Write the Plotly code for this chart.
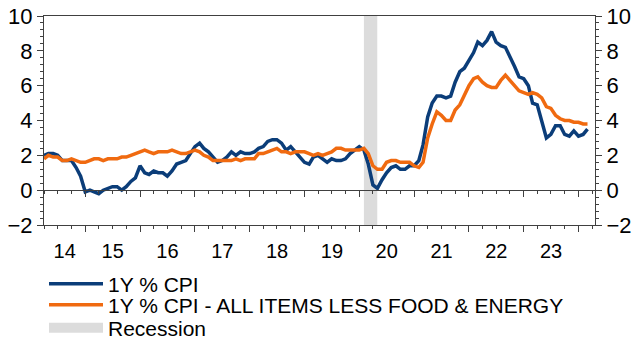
import plotly.graph_objects as go
import pandas as pd

# ---- data (monthly, Apr 2014 - Mar 2024) ----
start_month = "2014-04-01"
cpi = [2.0, 2.1, 2.1, 2.0, 1.7, 1.7, 1.7, 1.3, 0.8,
       -0.1, 0.0, -0.1, -0.2, 0.0, 0.1, 0.2, 0.2, 0.0, 0.2, 0.5, 0.7,
       1.4, 1.0, 0.9, 1.1, 1.0, 1.0, 0.8, 1.1, 1.5, 1.6, 1.7, 2.1,
       2.5, 2.7, 2.4, 2.2, 1.9, 1.6, 1.7, 1.9, 2.2, 2.0, 2.2, 2.1,
       2.1, 2.2, 2.4, 2.5, 2.8, 2.9, 2.9, 2.7, 2.3, 2.5, 2.2, 1.9,
       1.6, 1.5, 1.9, 2.0, 1.8, 1.6, 1.8, 1.7, 1.7, 1.8, 2.1, 2.3,
       2.5, 2.3, 1.5, 0.3, 0.1, 0.6, 1.0, 1.3, 1.4, 1.2, 1.2, 1.4,
       1.4, 1.7, 2.6, 4.2, 5.0, 5.4, 5.4, 5.3, 5.4, 6.2, 6.8, 7.0,
       7.5, 7.9, 8.5, 8.3, 8.6, 9.1, 8.5, 8.3, 8.2, 7.7, 7.1, 6.5,
       6.4, 6.0, 5.0, 4.9, 4.0, 3.0, 3.2, 3.7, 3.7, 3.2, 3.1, 3.4,
       3.1, 3.2, 3.5]
core = [1.8, 2.0, 1.9, 1.9, 1.7, 1.7, 1.8, 1.7, 1.6,
        1.6, 1.7, 1.8, 1.8, 1.7, 1.8, 1.8, 1.8, 1.9, 1.9, 2.0, 2.1,
        2.2, 2.3, 2.2, 2.1, 2.2, 2.2, 2.2, 2.3, 2.2, 2.1, 2.1, 2.2,
        2.3, 2.2, 2.0, 1.9, 1.7, 1.7, 1.7, 1.7, 1.7, 1.8, 1.7, 1.8,
        1.8, 1.8, 2.1, 2.1, 2.2, 2.3, 2.4, 2.2, 2.2, 2.1, 2.2, 2.2,
        2.2, 2.1, 2.0, 2.1, 2.0, 2.1, 2.2, 2.4, 2.4, 2.3, 2.3, 2.3,
        2.3, 2.4, 2.1, 1.4, 1.2, 1.2, 1.6, 1.7, 1.7, 1.6, 1.6, 1.6,
        1.4, 1.3, 1.6, 3.0, 3.8, 4.5, 4.3, 4.0, 4.0, 4.6, 4.9, 5.5,
        6.0, 6.4, 6.5, 6.2, 6.0, 5.9, 5.9, 6.3, 6.6, 6.3, 6.0, 5.7,
        5.6, 5.5, 5.6, 5.5, 5.3, 4.8, 4.7, 4.3, 4.1, 4.0, 4.0, 3.9,
        3.9, 3.8, 3.8]
dates = pd.date_range(start_month, periods=len(cpi), freq="MS")

recession = ["2020-02-01", "2020-04-30"]
years = list(range(2014, 2024))
year_labels = [str(y)[2:] for y in years]
series_names = ["1Y % CPI", "1Y % CPI - ALL ITEMS LESS FOOD & ENERGY", "Recession"]

# ---- styling ----
NAVY = "#0b3d79"
ORANGE = "#f06a10"
GREY = "#dcdcdc"
AX = "#404040"
FONT = "Liberation Sans, Arial, sans-serif"
x_range = [pd.Timestamp("2014-04-01"), pd.Timestamp("2024-04-20")]

# label positions: centre of visible part of each year
lab_pos = []
for y in years:
    a = max(pd.Timestamp(f"{y}-01-01"), x_range[0])
    b = min(pd.Timestamp(f"{y + 1}-01-01"), x_range[1])
    lab_pos.append(a + (b - a) / 2)

fig = go.Figure()
fig.add_trace(go.Scatter(x=dates, y=cpi, mode="lines", name=series_names[0],
                         line=dict(color=NAVY, width=3.5), legend="legend"))
fig.add_trace(go.Scatter(x=dates, y=core, mode="lines", name=series_names[1],
                         line=dict(color=ORANGE, width=3.5), legend="legend2"))
# legend-only entry for recession
fig.add_trace(go.Scatter(x=[None], y=[None], mode="lines", name=series_names[2],
                         line=dict(color=GREY, width=14), legend="legend3",
                         xaxis="x2", yaxis="y2"))
# invisible helper for zero-line axis
fig.add_trace(go.Scatter(x=[None], y=[None], mode="lines", showlegend=False,
                         xaxis="x3", yaxis="y", hoverinfo="skip"))

fig.add_shape(type="rect", xref="x", yref="y", x0=recession[0], x1=recession[1],
              y0=-2, y1=10, fillcolor=GREY, line=dict(width=0), layer="below")

common_x = dict(type="date", range=x_range, showgrid=False, zeroline=False)
minor_x = dict(tick0="2015-01-01", dtick="M3", ticks="outside",
               ticklen=3, tickcolor=AX, tickwidth=1, showgrid=False)
leg = dict(x=0.0, xanchor="left", yanchor="middle",
           font=dict(size=21), itemwidth=54, bgcolor="rgba(0,0,0,0)")
fig.update_layout(
    width=633, height=340,
    margin=dict(l=44, r=38, t=16, b=115, autoexpand=False),
    paper_bgcolor="white", plot_bgcolor="white",
    font=dict(family=FONT, color="black", size=20),
    showlegend=True,
    xaxis=dict(**common_x, showline=True, linecolor=AX, linewidth=1, mirror=True,
               tick0="2015-01-01", dtick="M12", ticks="outside", ticklen=6,
               tickcolor=AX, tickwidth=1, showticklabels=False, minor=minor_x),
    xaxis2=dict(**common_x, overlaying="x", anchor="y2", side="bottom",
                tickmode="array", tickvals=lab_pos, ticktext=year_labels,
                ticks="outside", ticklen=8, tickcolor="rgba(0,0,0,0)",
                showline=False, tickfont=dict(size=20)),
    xaxis3=dict(**common_x, overlaying="x", anchor="free", position=2 / 12,
                showline=True, linecolor=AX, linewidth=1,
                tick0="2015-01-01", dtick="M12", ticks="outside", ticklen=6,
                tickcolor=AX, tickwidth=1, showticklabels=False, minor=minor_x),
    yaxis=dict(range=[-2, 10], dtick=2, tick0=0, showgrid=False, zeroline=False,
               showline=True, linecolor=AX, ticks="outside", ticklen=6,
               tickcolor=AX, tickfont=dict(size=22),
               minor=dict(dtick=0.4, tick0=0, ticks="outside", ticklen=3,
                          tickcolor=AX, showgrid=False)),
    yaxis2=dict(range=[-2, 10], dtick=2, tick0=0, overlaying="y", side="right",
                anchor="x2", showgrid=False, zeroline=False,
                showline=True, linecolor=AX, ticks="outside", ticklen=6,
                tickcolor=AX, tickfont=dict(size=22),
                minor=dict(dtick=0.4, tick0=0, ticks="outside", ticklen=3,
                           tickcolor=AX, showgrid=False)),
    legend=dict(**leg, y=-(284 - 225) / 209),
    legend2=dict(**leg, y=-(305 - 225) / 209),
    legend3=dict(**leg, y=-(328 - 225) / 209),
)

fig.write_html("out.html")
